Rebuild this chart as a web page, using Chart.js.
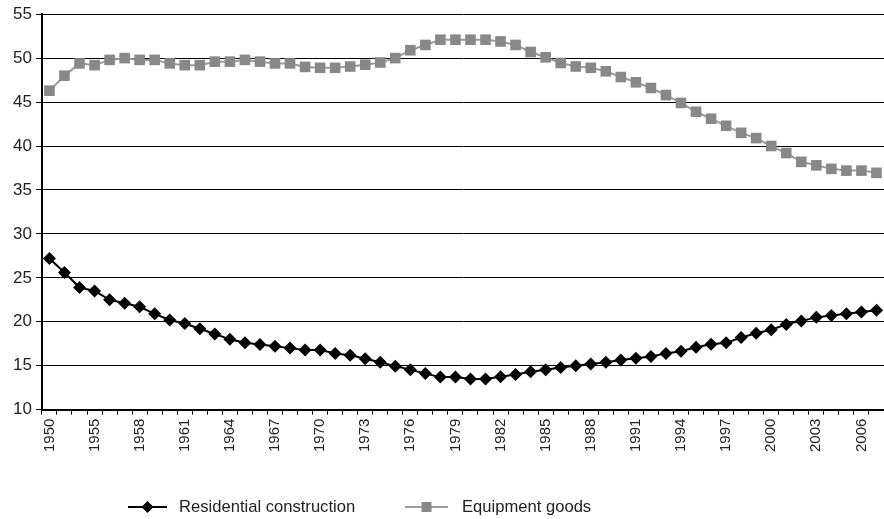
<!DOCTYPE html>
<html>
<head>
<meta charset="utf-8">
<script src="https://cdn.jsdelivr.net/npm/chart.js@4.4.1/dist/chart.umd.min.js"></script>
<style>
  html, body { margin: 0; padding: 0; background: #fff; }
  #wrap { width: 884px; height: 519px; position: relative; }
</style>
</head>
<body>
<div id="wrap"><canvas id="c" width="884" height="519"></canvas></div>
<script>
// Categories (the axis shows every third one)
const years = ['1950','1951','1952','1955','1956','1957','1958','1959','1960','1961','1962','1963','1964','1965','1966','1967','1968','1969','1970','1971','1972','1973','1974','1975','1976','1977','1978','1979','1980','1981','1982','1983','1984','1985','1986','1987','1988','1989','1990','1991','1992','1993','1994','1995','1996','1997','1998','1999','2000','2001','2002','2003','2004','2005','2006','2007'];

const residentialConstruction = [27.2,25.6,23.9,23.5,22.5,22.1,21.7,20.9,20.2,19.8,19.2,18.6,18.0,17.6,17.4,17.2,17.0,16.8,16.8,16.4,16.2,15.8,15.4,14.95,14.55,14.1,13.7,13.7,13.5,13.5,13.75,14.0,14.3,14.55,14.8,15.0,15.2,15.4,15.65,15.85,16.05,16.4,16.65,17.1,17.45,17.6,18.2,18.7,19.1,19.7,20.1,20.5,20.7,20.9,21.1,21.3];

const equipmentGoods = [46.3,48.0,49.4,49.2,49.8,50.0,49.8,49.8,49.4,49.2,49.2,49.6,49.6,49.8,49.6,49.4,49.4,49.0,48.9,48.9,49.05,49.25,49.5,50.0,50.9,51.5,52.1,52.1,52.1,52.1,51.9,51.5,50.7,50.1,49.45,49.05,48.9,48.5,47.85,47.25,46.6,45.8,44.9,43.9,43.1,42.3,41.5,40.9,40.0,39.2,38.2,37.8,37.4,37.2,37.2,36.95];

const yTicks = [10,15,20,25,30,35,40,45,50,55];

const FONT = "'Liberation Sans', Arial, sans-serif";

const legendPlugin = {
  id: 'bottomLegend',
  afterDraw(chart) {
    const ctx = chart.ctx;
    const y = 507;
    const items = [
      { ds: chart.data.datasets[0], x0: 128, x1: 167, tx: 179, shape: 'diamond' },
      { ds: chart.data.datasets[1], x0: 405, x1: 448, tx: 462, shape: 'square' }
    ];
    ctx.save();
    items.forEach(it => {
      ctx.strokeStyle = it.ds.borderColor;
      ctx.lineWidth = it.ds.borderWidth;
      ctx.beginPath();
      ctx.moveTo(it.x0, y);
      ctx.lineTo(it.x1, y);
      ctx.stroke();
      const cx = (it.x0 + it.x1) / 2;
      ctx.fillStyle = it.ds.pointBackgroundColor;
      ctx.beginPath();
      if (it.shape === 'diamond') {
        const r = 6;
        ctx.moveTo(cx, y - r); ctx.lineTo(cx + r, y); ctx.lineTo(cx, y + r); ctx.lineTo(cx - r, y);
        ctx.closePath();
      } else {
        ctx.rect(cx - 5, y - 5, 10, 10);
      }
      ctx.fill();
      ctx.fillStyle = '#222';
      ctx.font = '16.6px ' + FONT;
      ctx.textBaseline = 'middle';
      ctx.textAlign = 'left';
      ctx.fillText(it.ds.label, it.tx, y);
    });
    ctx.restore();
  }
};

new Chart(document.getElementById('c'), {
  type: 'line',
  data: {
    labels: years,
    datasets: [
      {
        label: 'Residential construction',
        data: residentialConstruction,
        borderColor: '#000',
        backgroundColor: '#000',
        pointBackgroundColor: '#000',
        pointBorderColor: '#000',
        borderWidth: 2,
        pointStyle: 'rectRot',
        pointRadius: 6.5,
        pointBorderWidth: 0,
        tension: 0,
        clip: false
      },
      {
        label: 'Equipment goods',
        data: equipmentGoods,
        borderColor: '#9c9c9c',
        backgroundColor: '#888',
        pointBackgroundColor: '#888888',
        pointBorderColor: '#888888',
        borderWidth: 2,
        pointStyle: 'rect',
        pointRadius: 7.5,
        pointBorderWidth: 0,
        tension: 0,
        clip: false
      }
    ]
  },
  options: {
    responsive: false,
    animation: false,
    devicePixelRatio: 1,
    layout: { autoPadding: false, padding: { top: 6, left: 9, right: 0, bottom: 63 } },
    plugins: {
      legend: { display: false },
      tooltip: { enabled: false }
    },
    scales: {
      x: {
        type: 'category',
        offset: true,
        afterFit: scale => { scale.paddingLeft = 0; scale.paddingRight = 0; },
        grid: {
          offset: true,
          drawOnChartArea: false,
          drawTicks: true,
          tickLength: 5,
          color: '#000',
          lineWidth: 1
        },
        border: { display: true, color: '#000', width: 2 },
        ticks: {
          autoSkip: false,
          maxRotation: 90,
          minRotation: 90,
          padding: 4,
          color: '#222',
          font: { family: FONT, size: 15 },
          callback: function(value, index) {
            return index % 3 === 0 ? this.getLabelForValue(value) : '';
          }
        }
      },
      y: {
        min: 10,
        max: 55,
        afterBuildTicks: axis => { axis.ticks = yTicks.map(v => ({ value: v })); },
        grid: {
          color: '#000',
          lineWidth: 1,
          drawTicks: true,
          tickLength: 6
        },
        border: { display: true, color: '#000', width: 2 },
        ticks: {
          padding: 4,
          color: '#222',
          font: { family: FONT, size: 17 }
        }
      }
    }
  },
  plugins: [legendPlugin]
});
</script>
</body>
</html>
